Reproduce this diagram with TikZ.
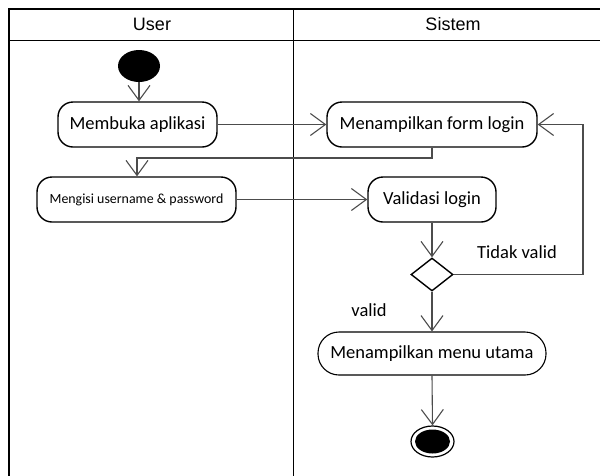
\documentclass[tikz,border=0pt]{standalone}
\usepackage{fontspec}
\setmainfont{Carlito}
\newfontfamily\headfont{Liberation Sans}
\usetikzlibrary{arrows.meta,shapes.geometric}
\begin{document}
\begin{tikzpicture}[x=1pt,y=-1pt,
  frameline/.style={line width=1.4pt,black},
  actbox/.style={draw,line width=1.4pt,rounded corners=15pt,inner sep=0pt,font=\fontsize{18.5}{20}\selectfont},
  flow/.style={line width=1.1pt,black!70,-{Straight Barb[length=15pt,width=22pt,line width=1.1pt]}},
  plainflow/.style={line width=1.1pt,black!70},
  lbl/.style={font=\fontsize{18.5}{20}\selectfont,inner sep=0pt},
  headlbl/.style={font=\headfont\fontsize{18}{20}\selectfont,inner sep=0pt}]
\useasboundingbox (0,0) rectangle (600,475);
% swimlane frame
\draw[frameline] (600,9) -- (9,9) -- (9,476);
\draw[frameline] (9,40.5) -- (600,40.5);
\draw[frameline] (293.5,9) -- (293.5,476);
\node[headlbl] (huser) at (152,24) {User};
\node[headlbl] (hsistem) at (453,24) {Sistem};
% nodes
\node[ellipse,fill=black,minimum width=42pt,minimum height=32pt,inner sep=0pt] (start) at (139,66) {};
\node[actbox,minimum width=159pt,minimum height=45pt] (buka) at (137.5,124.5) {Membuka aplikasi};
\node[actbox,minimum width=210pt,minimum height=45pt] (form) at (432,124.5) {Menampilkan form login};
\node[actbox,minimum width=199pt,minimum height=45pt,font=\fontsize{13.9}{16}\selectfont] (isi) at (136.5,199.5) {Mengisi username \& password};
\node[actbox,minimum width=128pt,minimum height=45pt] (valid) at (432,199.5) {Validasi login};
\node[diamond,draw,line width=1.4pt,minimum width=42pt,minimum height=33pt,inner sep=0pt] (dec) at (432,274.5) {};
\node[actbox,rounded corners=21pt,line width=1.1pt,minimum width=228pt,minimum height=43pt] (menu) at (432,353.5) {Menampilkan menu utama};
\node[ellipse,draw,line width=1.2pt,minimum width=43pt,minimum height=31pt,inner sep=0pt] (end) at (432.5,441.5) {};
\node[ellipse,fill=black,minimum width=35pt,minimum height=24pt,inner sep=0pt] (endin) at (end.center) {};
% labels
\node[lbl] (ltidak) at (517,252) {Tidak valid};
\node[lbl] (lvalid) at (369,310) {valid};
% connectors
\coordinate (c1) at (432,158);
\coordinate (c2) at (137,158);
\coordinate (c3) at (583,274.5);
\coordinate (c4) at (583,124.5);
\draw[flow] (start.south) -- (start.south |- buka.north);
\draw[flow] (buka.east) -- (form.west);
\draw[flow] (form.south) -- (c1) -- (c2) -- (c2 |- isi.north);
\draw[flow] (isi.east) -- (valid.west);
\draw[flow] (valid.south) -- (dec.north);
\draw[flow] (dec.east) -- (c3) -- (c4) -- (form.east);
\draw[flow] (dec.south) -- (menu.north);
\draw[flow] (menu.south) -- (end.north);
\end{tikzpicture}
\end{document}
